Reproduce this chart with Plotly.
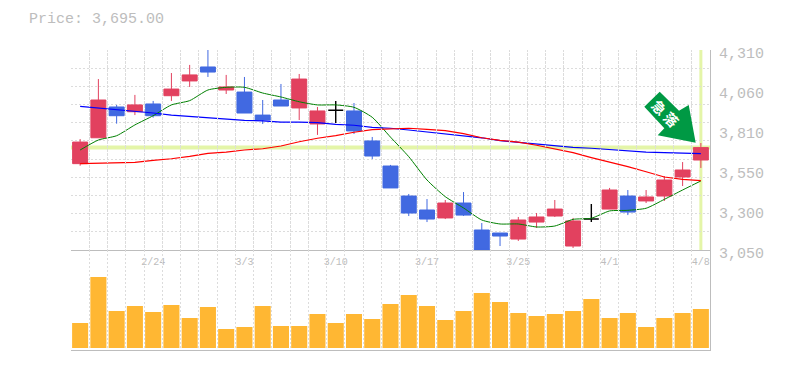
import plotly.graph_objects as go

dates = ["2/24", "3/3", "3/10", "3/17", "3/25", "4/1", "4/8"]
date_idx = [4, 9, 14, 19, 24, 29, 34]
price_ticks = [3050, 3302, 3554, 3806, 4058, 4310]
price_labels = ["3,050", "3,300", "3,550", "3,810", "4,060", "4,310"]
idx = list(range(35))

opens = [3594, 3757, 3951, 3921, 3970, 4022, 4115, 4203, 4058, 4045, 3900, 3995, 3945, 3844, 3930, 3926, 3737, 3579,
         3390, 3302, 3252, 3346, 3176, 3157, 3119, 3226, 3264, 3075, 3245, 3308, 3390, 3359, 3390, 3510, 3617]
closes = [3730, 3995, 3896, 3964, 3896, 4064, 4153, 4171, 4077, 3913, 3869, 3957, 4127, 3926, 3930, 3800, 3642, 3441,
          3283, 3245, 3346, 3270, 3050, 3138, 3239, 3258, 3308, 3233, 3245, 3428, 3289, 3384, 3491, 3554, 3695]
highs = [3749, 4127, 3964, 4027, 3989, 4165, 4216, 4310, 4153, 4140, 3995, 4096, 4159, 3951, 3989, 3976, 3762, 3586,
         3403, 3371, 3365, 3415, 3220, 3157, 3258, 3283, 3365, 3252, 3340, 3441, 3428, 3428, 3516, 3604, 3724]
lows = [3581, 3757, 3846, 3900, 3884, 3989, 4077, 4140, 4033, 3913, 3844, 3957, 3869, 3775, 3850, 3781, 3623, 3441,
        3264, 3226, 3245, 3264, 3050, 3075, 3107, 3189, 3258, 3063, 3226, 3308, 3270, 3346, 3359, 3453, 3567]
ma_green = [3680, 3743, 3770, 3838, 3896, 3964, 3991, 4058, 4075, 4075, 4039, 4014, 3984, 3964, 3964, 3949, 3886, 3761,
            3638, 3491, 3386, 3315, 3239, 3214, 3214, 3195, 3201, 3243, 3250, 3296, 3300, 3313, 3369, 3428, 3485]
ma_blue = [3955, 3945, 3932, 3921, 3913, 3900, 3892, 3882, 3873, 3867, 3863, 3856, 3855, 3852, 3842, 3836, 3823, 3817,
           3806, 3793, 3781, 3770, 3757, 3739, 3729, 3716, 3705, 3697, 3691, 3682, 3674, 3666, 3663, 3659, 3657]
ma_red = [3594, 3596, 3600, 3602, 3615, 3625, 3640, 3659, 3667, 3680, 3688, 3705, 3732, 3754, 3770, 3792, 3808, 3814,
          3817, 3810, 3802, 3783, 3757, 3741, 3730, 3710, 3686, 3663, 3632, 3604, 3575, 3543, 3510, 3495, 3487]
volume = [25, 71, 37, 42, 36, 43, 30, 41, 19, 21, 42, 22, 22, 34, 25, 34, 29, 44,
          53, 42, 28, 37, 55, 46, 35, 32, 34, 37, 49, 30, 35, 21, 30, 35, 39]

GREY = "#bdbdbd"
GRID = "#dcdcdc"
DASH = "2px,2px"
RED = "#e2415f"
BLUE = "#4169e1"
LIME = "#e4f5a8"
MONO = "Liberation Mono"

L, R, T, B = 71, 710, 50, 350
W, H = 785, 370
PH = B - T
px = lambda x: (x - L) / (R - L)
py = lambda y: (B - y) / PH

solid = [i for i in idx if opens[i] != closes[i]]
doji = [i for i in idx if opens[i] == closes[i]]


def pick(a, s):
    return [a[i] for i in s]


fig = go.Figure()

fig.add_trace(go.Bar(x=idx, y=volume, width=0.88, marker=dict(color="#ffb733", line_width=0),
                     xaxis="x2", yaxis="y2", name="Volume"))
fig.add_trace(go.Scatter(x=idx, y=ma_green, mode="lines",
                         line=dict(color="#008000", width=1, shape="spline", smoothing=0.6), name="MA short"))
fig.add_trace(go.Scatter(x=idx, y=ma_blue, mode="lines", line=dict(color="#0000ff", width=1.2), name="MA long"))
fig.add_trace(go.Scatter(x=idx, y=ma_red, mode="lines", line=dict(color="#ff0000", width=1.2), name="MA mid"))
fig.add_trace(go.Candlestick(x=solid, open=pick(opens, solid), high=pick(highs, solid), low=pick(lows, solid),
                             close=pick(closes, solid),
                             increasing=dict(line=dict(color=RED, width=1), fillcolor=RED),
                             decreasing=dict(line=dict(color=BLUE, width=1), fillcolor=BLUE),
                             whiskerwidth=0, name="Price"))
fig.add_trace(go.Candlestick(x=doji, open=pick(opens, doji), high=pick(highs, doji), low=pick(lows, doji),
                             close=pick(closes, doji),
                             increasing=dict(line=dict(color="black", width=1.4), fillcolor="black"),
                             decreasing=dict(line=dict(color="black", width=1.4), fillcolor="black"),
                             whiskerwidth=0, name="Doji"))
# helper trace carrying the right-hand price labels on an axis nudged down like the reference
fig.add_trace(go.Scatter(x=[0], y=[price_ticks[0]], mode="markers", marker=dict(opacity=0), yaxis="y3",
                         showlegend=False, hoverinfo="skip"))

last_close = closes[-1]
fig.add_shape(type="line", xref="x", yref="y", x0=-0.5, x1=34.5, y0=last_close, y1=last_close,
              line=dict(color=LIME, width=4), layer="below")
fig.add_shape(type="line", xref="x", yref="y", x0=34, x1=34, y0=price_ticks[0], y1=price_ticks[-1],
              line=dict(color=LIME, width=3), layer="below")

arrow = [(659.7, 91.7), (679, 110.7), (688.7, 105), (695.7, 142.7), (657.7, 135.3), (664.3, 128.3), (644.3, 106.7)]
path = "M " + " L ".join(f"{px(x):.4f},{py(y):.4f}" for x, y in arrow) + " Z"
fig.add_shape(type="path", xref="paper", yref="paper", path=path, fillcolor="#009944", line_width=0, layer="above")
for ch, (cx, cy) in zip("急落", [(659.5, 106.5), (671.5, 118.5)]):
    fig.add_annotation(xref="paper", yref="paper", x=px(cx), y=py(cy), text=f"<b>{ch}</b>", showarrow=False,
                       textangle=45, xanchor="center", yanchor="middle",
                       font=dict(family="Noto Sans CJK JP", size=14, color="white"))

grid_step = (price_ticks[-1] - price_ticks[0]) / 11
fig.update_layout(
    width=W, height=H, autosize=False, showlegend=False, paper_bgcolor="white", plot_bgcolor="rgba(0,0,0,0)",
    margin=dict(l=L, r=W - R, t=T, b=H - B, pad=0), boxgap=0.18, boxgroupgap=0, bargap=0.12,
    title=dict(text="Price: 3,695.00", x=29 / W, xanchor="left", xref="container", y=1 - 18 / H, yanchor="middle",
               font=dict(family=MONO, size=15, color=GREY)),
    xaxis=dict(domain=[0, 1], range=[-0.5, 34.5], anchor="y", rangeslider_visible=False, tickmode="array",
               automargin=False,
               tickvals=date_idx, ticktext=dates, showgrid=False, ticks="", zeroline=False, ticklabelstandoff=2,
               tickfont=dict(family=MONO, size=10, color=GREY), showline=True, linecolor=GREY, linewidth=1,
               minor=dict(tickmode="linear", tick0=-0.5, dtick=1, showgrid=True, gridcolor=GRID, griddash=DASH,
                          gridwidth=1, ticks="")),
    xaxis2=dict(domain=[0, 1], range=[-0.5, 34.5], anchor="y2", matches="x", showticklabels=False, showgrid=False,
                automargin=False,
                ticks="", zeroline=False, showline=True, linecolor=GREY, linewidth=1,
                minor=dict(tickmode="linear", tick0=-0.5, dtick=1, showgrid=True, gridcolor=GRID, griddash=DASH,
                           gridwidth=1, ticks="")),
    yaxis=dict(domain=[100 / PH, 1], range=[price_ticks[0], price_ticks[-1]], side="right", showticklabels=False,
               automargin=False,
               showgrid=False, ticks="", zeroline=False, showline=True, linecolor=GREY, linewidth=1, anchor="x",
               minor=dict(tickmode="linear", tick0=price_ticks[0], dtick=grid_step, showgrid=True, gridcolor=GRID,
                          griddash=DASH, gridwidth=1, ticks="")),
    yaxis2=dict(domain=[0, 100 / PH], range=[-2, 98], side="right", showticklabels=False, showgrid=False, ticks="",
                automargin=False,
                zeroline=False, showline=True, linecolor=GREY, linewidth=1, anchor="x2"),
    yaxis3=dict(domain=[97 / PH, 297 / PH], range=[price_ticks[0], price_ticks[-1]], side="right", anchor="x",
                automargin=False,
                tickmode="array", tickvals=price_ticks, ticktext=price_labels, showgrid=False, ticks="",
                zeroline=False, showline=False, ticklabelstandoff=8,
                tickfont=dict(family=MONO, size=15, color=GREY)),
)

fig.write_html("out.html", config={"displayModeBar": False}, post_script="document.body.style.margin='0';")
